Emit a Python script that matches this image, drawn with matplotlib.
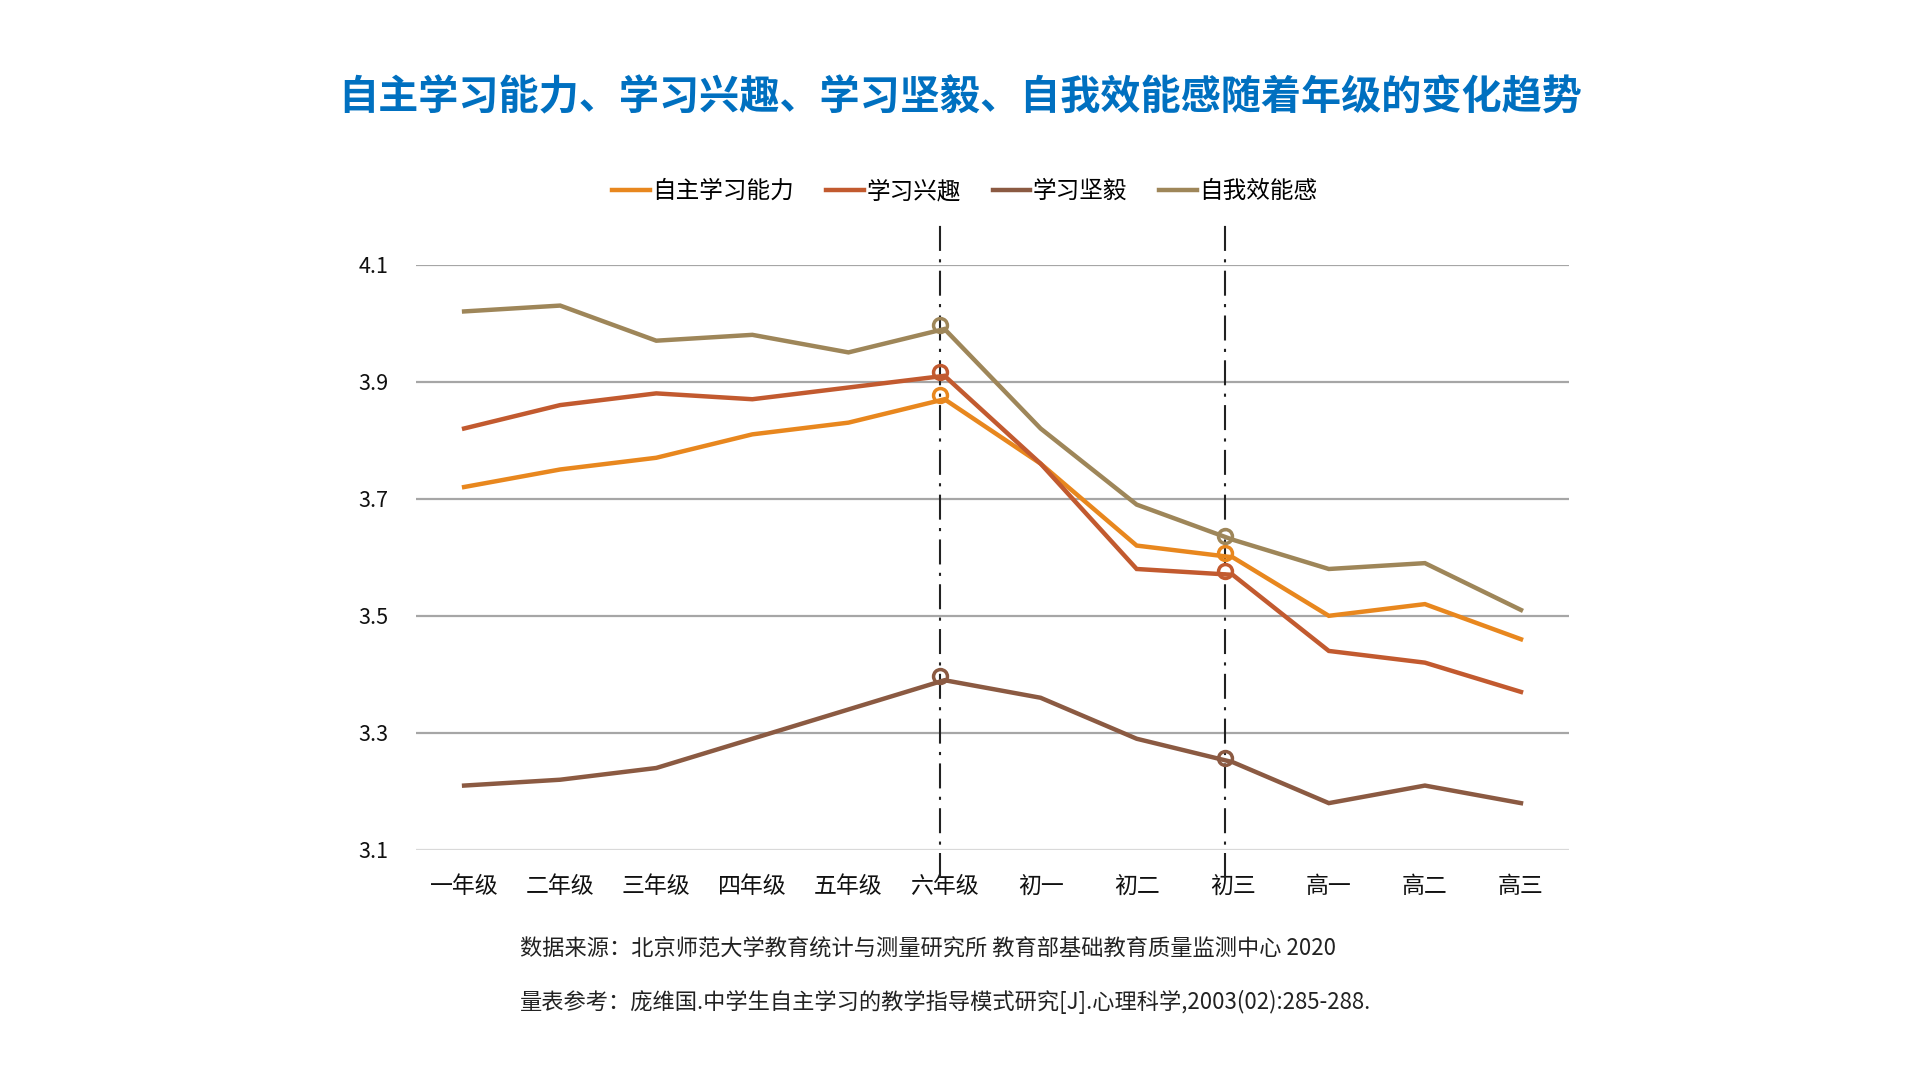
import numpy as np
import matplotlib.pyplot as plt

plt.rcParams['font.family'] = ['Noto Sans CJK SC', 'DejaVu Sans']

grades = ['一年级', '二年级', '三年级', '四年级', '五年级', '六年级',
          '初一', '初二', '初三', '高一', '高二', '高三']

# values
autonomy = [3.72, 3.75, 3.77, 3.81, 3.83, 3.87, 3.76, 3.62, 3.60, 3.50, 3.52, 3.46]
interest = [3.82, 3.86, 3.88, 3.87, 3.89, 3.91, 3.76, 3.58, 3.57, 3.44, 3.42, 3.37]
grit = [3.21, 3.22, 3.24, 3.29, 3.34, 3.39, 3.36, 3.29, 3.25, 3.18, 3.21, 3.18]
efficacy = [4.02, 4.03, 3.97, 3.98, 3.95, 3.99, 3.82, 3.69, 3.63, 3.58, 3.59, 3.51]

series_names = ['自主学习能力', '学习兴趣', '学习坚毅', '自我效能感']
series_colors = ['#E8871E', '#C25A2F', '#8B5A42', '#9E8659']

# grades highlighted with a dash-dot line and circle markers
marked = [5, 8]
# the guides in the original sit a touch left of the category centre
marked_shift = [-0.05, -0.08]

yticks = [3.1, 3.3, 3.5, 3.7, 3.9, 4.1]

fig = plt.figure(figsize=(19.2, 10.8), dpi=100)
ax = fig.add_axes([0.2167, 0.213, 0.6005, 0.542])

x = np.arange(len(grades))
mx = np.array(marked) + np.array(marked_shift)
for name, vals, col in zip(series_names, [autonomy, interest, grit, efficacy], series_colors):
    ax.plot(x, vals, color=col, lw=3.2, label=name, zorder=3, solid_joinstyle='miter')
    ax.plot(mx, np.array(vals)[marked] + 0.007, 'o', ms=10, mfc='none',
            mec=col, mew=2.5, zorder=4)

# dash-dot guide lines that run past the plot area
for m in mx:
    ax.plot([m, m], [3.052, 4.17], color='#222222', lw=1.5,
            linestyle=(0, (12, 4, 1.5, 4)), clip_on=False, zorder=2)

for yt in yticks:
    ax.axhline(yt, color='#D9D9D9' if yt == 3.1 else '#A6A6A6', lw=1.6, zorder=1)

ax.set_xlim(-0.5, len(grades) - 0.5)
ax.set_ylim(3.1, 4.1)
ax.set_yticks(yticks)
ax.set_yticklabels([f'{v:.1f}' for v in yticks])
ax.set_xticks(x)
ax.set_xticklabels(grades)
ax.tick_params(length=0, colors='#111111')
ax.tick_params(axis='y', pad=20, labelsize=15.5)
ax.tick_params(axis='x', pad=18, labelsize=16.5)
for s in ax.spines.values():
    s.set_visible(False)

ax.legend(loc='lower center', bbox_to_anchor=(0.476, 1.069), ncol=4, frameon=False,
          fontsize=17, handlelength=1.6, handletextpad=0.1, columnspacing=1.35)

fig.text(0.5, 0.9095, '自主学习能力、学习兴趣、学习坚毅、自我效能感随着年级的变化趋势',
         ha='center', va='center', fontsize=28.9, fontweight='bold', color='#0070C0')

fig.text(0.271, 0.121, '数据来源：北京师范大学教育统计与测量研究所 教育部基础教育质量监测中心 2020',
         ha='left', va='center', fontsize=16, color='#222222')
fig.text(0.271, 0.072, '量表参考：庞维国.中学生自主学习的教学指导模式研究[J].心理科学,2003(02):285-288.',
         ha='left', va='center', fontsize=16, color='#222222')

fig.savefig('out.png', dpi=100)
